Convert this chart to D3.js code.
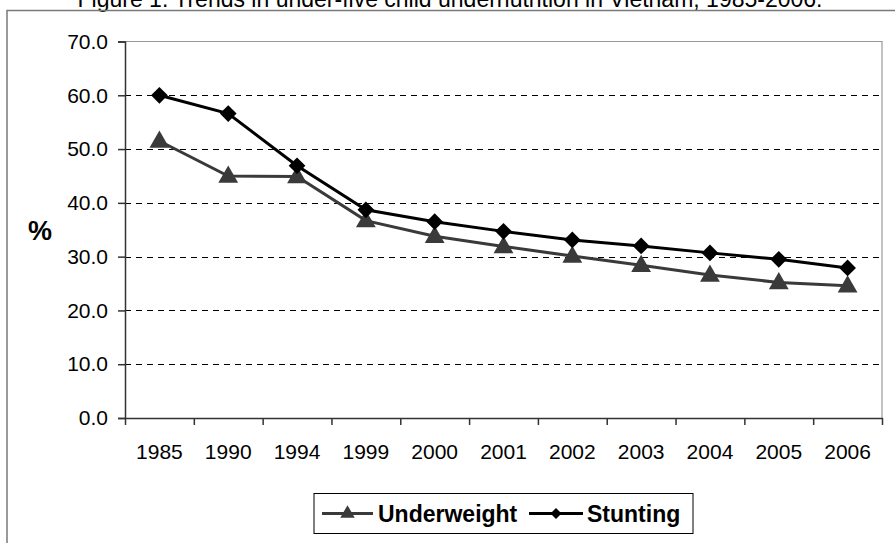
<!DOCTYPE html>
<html>
<head>
<meta charset="utf-8">
<script src="https://cdn.jsdelivr.net/npm/d3@7"></script>
<style>
  body { margin: 0; background: #fff; }
  svg { display: block; font-family: "Liberation Sans", Arial, sans-serif; }
</style>
</head>
<body>
<div id="chart"></div>
<script>
// data
var years = ["1985", "1990", "1994", "1999", "2000", "2001", "2002", "2003", "2004", "2005", "2006"];
var underweight = [51.5, 45.0, 44.9, 36.7, 33.8, 31.9, 30.1, 28.4, 26.6, 25.2, 24.6];
var stunting = [60.0, 56.6, 46.9, 38.7, 36.5, 34.7, 33.1, 32.0, 30.7, 29.5, 27.9];
var yTicks = [0, 10, 20, 30, 40, 50, 60, 70];
var title = "Figure 1: Trends in under-five child undernutrition in Vietnam, 1985-2006.";

var W = 895, H = 543;
var plot = {left: 125, top: 41.5, right: 882, bottom: 418};

var svg = d3.select("#chart").append("svg")
    .attr("width", W)
    .attr("height", H);

// title (cut off at the top like the original)
svg.append("text")
    .attr("x", 450)
    .attr("y", 7)
    .attr("text-anchor", "middle")
    .style("font-size", "23px")
    .text(title);

// outer frame
svg.append("rect")
    .attr("x", 7).attr("y", 10.5)
    .attr("width", 900).attr("height", 600)
    .attr("fill", "none")
    .attr("stroke", "#7a7a7a")
    .attr("stroke-width", 1.5);

// scales
var x = d3.scaleBand()
    .domain(years)
    .range([plot.left, plot.right])
    .padding(0);

var xi = d3.scaleLinear()
    .domain([0, years.length])
    .range([plot.left, plot.right]);

var y = d3.scaleLinear()
    .domain([0, 70])
    .range([plot.bottom, plot.top]);

function cx(d, i) { return x(years[i]) + x.bandwidth() / 2; }

// plot area border (top & right)
svg.append("path")
    .attr("d", "M" + plot.left + "," + plot.top + "H" + plot.right + "V" + plot.bottom)
    .attr("fill", "none")
    .attr("stroke", "#999")
    .attr("stroke-width", 1.2);

// dashed gridlines
svg.append("g")
    .selectAll("line")
    .data(yTicks.filter(function(d) { return d > 0 && d < 70; }))
    .enter().append("line")
    .attr("x1", plot.left)
    .attr("x2", plot.right)
    .attr("y1", function(d) { return Math.round(y(d)) + 0.5; })
    .attr("y2", function(d) { return Math.round(y(d)) + 0.5; })
    .attr("stroke", "#000")
    .attr("stroke-width", 1)
    .attr("stroke-dasharray", "6,5");

// y axis
var yAxis = svg.append("g")
    .attr("transform", "translate(" + plot.left + ",0)")
    .call(d3.axisLeft(y).tickValues(yTicks).tickFormat(d3.format(".1f")).tickSize(7).tickPadding(10));
yAxis.selectAll("text").style("font-size", "21px").attr("fill", "#000").attr("font-family", null);
yAxis.selectAll("line").attr("stroke", "#333").attr("stroke-width", 1.5);
yAxis.select(".domain").attr("stroke", "#333").attr("stroke-width", 1.5);

// x axis: ticks on the category boundaries
var xTicks = svg.append("g")
    .attr("transform", "translate(0," + plot.bottom + ")")
    .call(d3.axisBottom(xi).tickValues(d3.range(years.length + 1)).tickFormat("").tickSize(7).tickSizeOuter(0));
xTicks.selectAll("line").attr("stroke", "#333").attr("stroke-width", 1.5);
xTicks.select(".domain").attr("stroke", "#333").attr("stroke-width", 1.5);

// x axis labels centred in each band
var xLabels = svg.append("g")
    .attr("transform", "translate(0," + plot.bottom + ")")
    .call(d3.axisBottom(x).tickSize(0).tickPadding(26));
xLabels.select(".domain").remove();
xLabels.selectAll("text").style("font-size", "21px").attr("fill", "#000").attr("font-family", null);

// "%" label
svg.append("text")
    .attr("x", 40)
    .attr("y", 240)
    .attr("text-anchor", "middle")
    .style("font-size", "27px")
    .style("font-weight", "bold")
    .text("%");

var line = d3.line()
    .x(cx)
    .y(function(d) { return y(d); });

var triangle = d3.symbol().type(d3.symbolTriangle).size(170);
var diamond = d3.symbol().type(d3.symbolSquare).size(140);

// underweight
svg.append("path")
    .datum(underweight)
    .attr("d", line)
    .attr("fill", "none")
    .attr("stroke", "#3a3a3a")
    .attr("stroke-width", 3);

// stunting
svg.append("path")
    .datum(stunting)
    .attr("d", line)
    .attr("fill", "none")
    .attr("stroke", "#000")
    .attr("stroke-width", 3);

svg.append("g").selectAll("path")
    .data(underweight)
    .enter().append("path")
    .attr("d", triangle)
    .attr("transform", function(d, i) { return "translate(" + cx(d, i) + "," + (y(d) + 1) + ")"; })
    .attr("fill", "#3a3a3a");

svg.append("g").selectAll("path")
    .data(stunting)
    .enter().append("path")
    .attr("d", diamond)
    .attr("transform", function(d, i) { return "translate(" + cx(d, i) + "," + y(d) + ") rotate(45)"; })
    .attr("fill", "#000");

// legend
var legend = svg.append("g");
legend.append("rect")
    .attr("x", 314).attr("y", 493.5)
    .attr("width", 379).attr("height", 40)
    .attr("fill", "#fff")
    .attr("stroke", "#000")
    .attr("stroke-width", 1);

var legendItems = [
  {name: "Underweight", color: "#3a3a3a", x0: 322, x1: 373, tx: 378, sym: d3.symbol().type(d3.symbolTriangle).size(90), rot: 0},
  {name: "Stunting", color: "#000", x0: 529, x1: 583, tx: 587, sym: d3.symbol().type(d3.symbolSquare).size(60), rot: 45}
];

legendItems.forEach(function(it) {
  legend.append("line")
    .attr("x1", it.x0).attr("x2", it.x1)
    .attr("y1", 513.5).attr("y2", 513.5)
    .attr("stroke", it.color)
    .attr("stroke-width", 3);
  legend.append("path")
    .attr("d", it.sym)
    .attr("transform", "translate(" + ((it.x0 + it.x1) / 2) + ",513.5) rotate(" + it.rot + ")")
    .attr("fill", it.color);
  legend.append("text")
    .attr("x", it.tx)
    .attr("y", 521.5)
    .style("font-size", "23px")
    .style("font-weight", "bold")
    .text(it.name);
});
</script>
</body>
</html>
